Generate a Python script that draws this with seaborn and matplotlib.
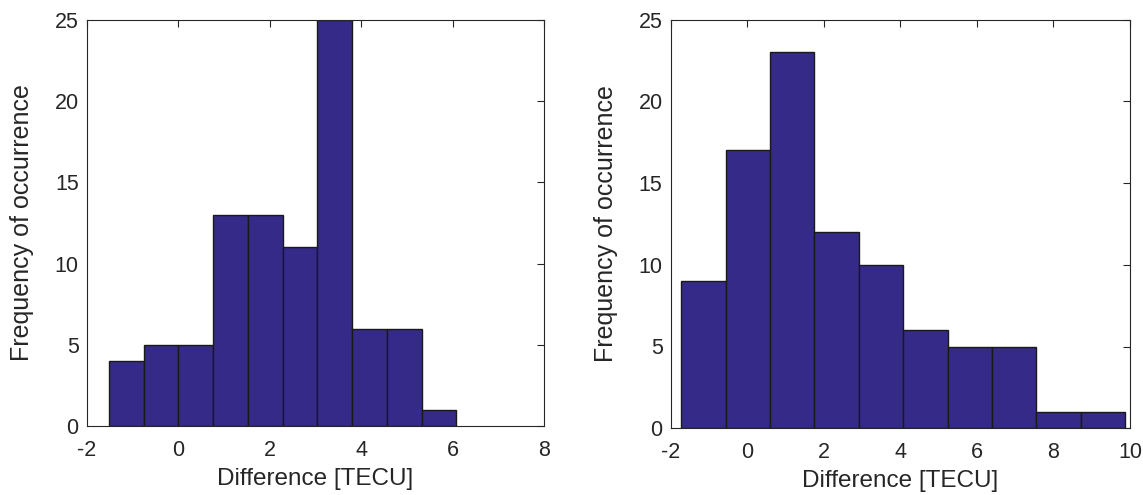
import numpy as np
import pandas as pd
import matplotlib
matplotlib.use("Agg")
import matplotlib.pyplot as plt
import seaborn as sns

# Left histogram
left_edges = [-1.52, -0.76, 0.0, 0.76, 1.52, 2.28, 3.04, 3.80, 4.56, 5.32, 6.08]
left_counts = [4, 5, 5, 13, 13, 11, 25, 6, 6, 1]
# Right histogram
right_edges = [-1.73, -0.57, 0.59, 1.75, 2.91, 4.07, 5.23, 6.39, 7.55, 8.71, 9.87]
right_counts = [9, 17, 23, 12, 10, 6, 5, 5, 1, 1]

x_label = "Difference [TECU]"
y_label = "Frequency of occurrence"

sns.set_style("white")
plt.rcParams['font.family'] = ['Liberation Sans', 'DejaVu Sans']

fig = plt.figure(figsize=(11.43, 4.95), dpi=100)
ax1 = fig.add_axes([0.0761, 0.139, 0.4, 0.821])
ax2 = fig.add_axes([0.587, 0.135, 0.4016, 0.825])

fill = "#352A87"

def draw(ax, edges, counts, xlim, xticks):
    e = np.array(edges, dtype=float)
    df = pd.DataFrame({"x": (e[:-1] + e[1:]) / 2, "w": counts})
    sns.histplot(data=df, x="x", weights="w", bins=list(edges), ax=ax,
                 color=fill, alpha=1.0, edgecolor="#1a1a1a", linewidth=1.0)
    ax.set_xlim(*xlim)
    ax.set_ylim(0, 25)
    ax.set_xticks(xticks)
    ax.set_yticks([0, 5, 10, 15, 20, 25])
    ax.set_xticklabels([str(t) for t in xticks])
    ax.tick_params(direction="in", top=True, right=True, length=5, width=0.8,
                   labelsize=15.5, colors="#262626")
    ax.tick_params(axis="x", pad=10)
    ax.tick_params(axis="y", pad=6)
    for s in ax.spines.values():
        s.set_visible(True)
        s.set_color("#262626")
        s.set_linewidth(0.8)
    ax.set_xlabel(x_label, fontsize=17.5, color="#262626", labelpad=5)
    ax.set_ylabel(y_label, fontsize=18, color="#262626", labelpad=15)

draw(ax1, left_edges, left_counts, (-2, 8), [-2, 0, 2, 4, 6, 8])
draw(ax2, right_edges, right_counts, (-2, 10), [-2, 0, 2, 4, 6, 8, 10])

fig.savefig("out.png", dpi=100)
